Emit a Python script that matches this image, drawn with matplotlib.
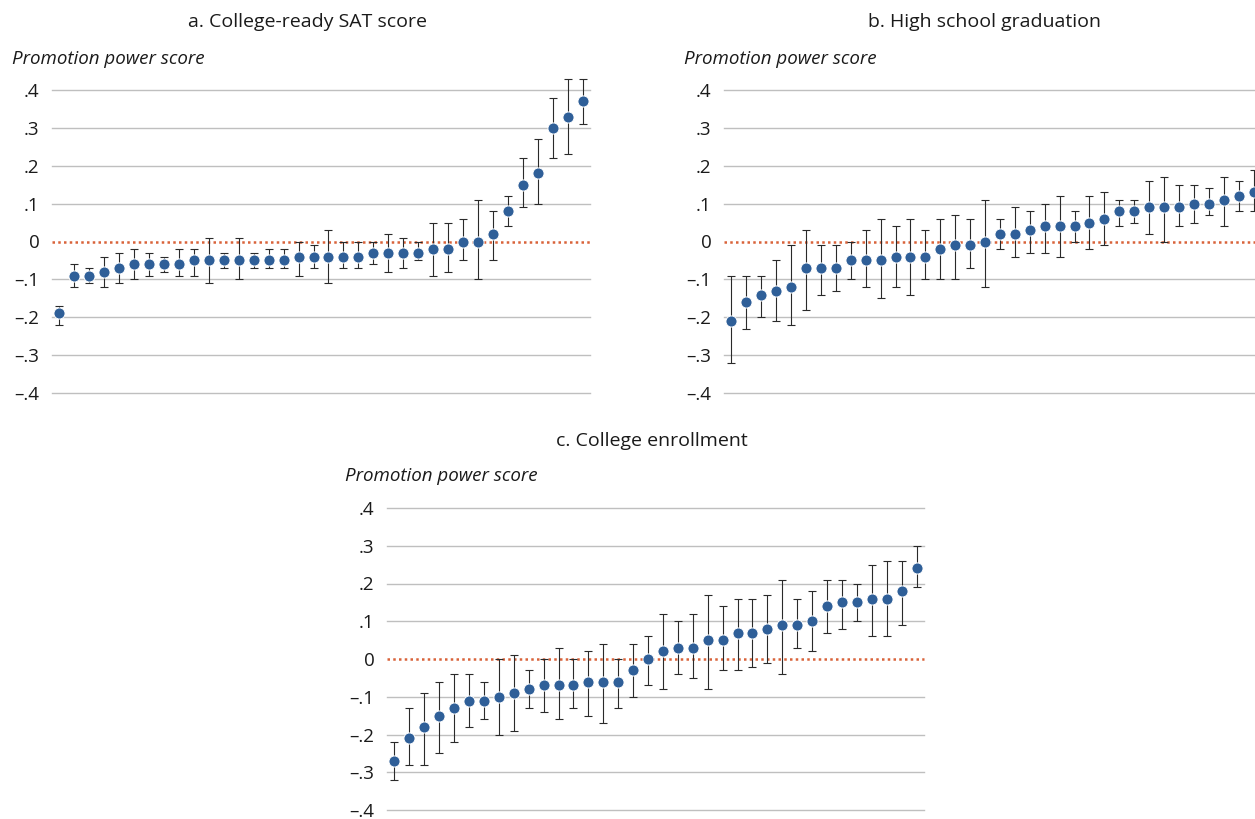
import numpy as np
import matplotlib
matplotlib.use('Agg')
import matplotlib.pyplot as plt

plt.rcParams['font.family'] = ['Open Sans', 'DejaVu Sans']

# Panel a: College-ready SAT score (estimate, lower CI, upper CI)
sat_est = [-0.19, -0.09, -0.09, -0.08, -0.07, -0.06, -0.06, -0.06, -0.06, -0.05,
           -0.05, -0.05, -0.05, -0.05, -0.05, -0.05, -0.04, -0.04, -0.04, -0.04,
           -0.04, -0.03, -0.03, -0.03, -0.03, -0.02, -0.02, 0.00, 0.00, 0.02,
           0.08, 0.15, 0.18, 0.30, 0.33, 0.37]
sat_lo = [-0.22, -0.12, -0.11, -0.12, -0.11, -0.10, -0.09, -0.08, -0.09, -0.09,
          -0.11, -0.07, -0.10, -0.07, -0.07, -0.07, -0.09, -0.07, -0.11, -0.07,
          -0.07, -0.06, -0.08, -0.07, -0.05, -0.09, -0.08, -0.05, -0.10, -0.05,
          0.04, 0.09, 0.10, 0.22, 0.23, 0.31]
sat_hi = [-0.17, -0.06, -0.07, -0.04, -0.03, -0.02, -0.03, -0.04, -0.02, -0.02,
          0.01, -0.03, 0.01, -0.03, -0.02, -0.02, 0.00, -0.01, 0.03, 0.00,
          0.00, 0.00, 0.02, 0.01, 0.00, 0.05, 0.05, 0.06, 0.11, 0.08,
          0.12, 0.22, 0.27, 0.38, 0.43, 0.43]

# Panel b: High school graduation
hs_est = [-0.21, -0.16, -0.14, -0.13, -0.12, -0.07, -0.07, -0.07, -0.05, -0.05,
          -0.05, -0.04, -0.04, -0.04, -0.02, -0.01, -0.01, 0.00, 0.02, 0.02,
          0.03, 0.04, 0.04, 0.04, 0.05, 0.06, 0.08, 0.08, 0.09, 0.09,
          0.09, 0.10, 0.10, 0.11, 0.12, 0.13]
hs_lo = [-0.32, -0.23, -0.20, -0.21, -0.22, -0.18, -0.14, -0.13, -0.10, -0.12,
         -0.15, -0.12, -0.14, -0.10, -0.10, -0.10, -0.07, -0.12, -0.02, -0.04,
         -0.03, -0.03, -0.04, 0.00, -0.02, -0.01, 0.04, 0.05, 0.02, 0.00,
         0.04, 0.05, 0.07, 0.04, 0.08, 0.08]
hs_hi = [-0.09, -0.09, -0.09, -0.05, -0.01, 0.03, -0.01, -0.01, 0.00, 0.03,
         0.06, 0.04, 0.06, 0.03, 0.06, 0.07, 0.06, 0.11, 0.06, 0.09,
         0.08, 0.10, 0.12, 0.08, 0.12, 0.13, 0.11, 0.11, 0.16, 0.17,
         0.15, 0.15, 0.14, 0.17, 0.16, 0.19]

# Panel c: College enrollment
ce_est = [-0.27, -0.21, -0.18, -0.15, -0.13, -0.11, -0.11, -0.10, -0.09, -0.08,
          -0.07, -0.07, -0.07, -0.06, -0.06, -0.06, -0.03, 0.00, 0.02, 0.03,
          0.03, 0.05, 0.05, 0.07, 0.07, 0.08, 0.09, 0.09, 0.10, 0.14,
          0.15, 0.15, 0.16, 0.16, 0.18, 0.24]
ce_lo = [-0.32, -0.28, -0.28, -0.25, -0.22, -0.18, -0.16, -0.20, -0.19, -0.13,
         -0.14, -0.16, -0.13, -0.15, -0.17, -0.13, -0.10, -0.07, -0.08, -0.04,
         -0.05, -0.08, -0.03, -0.03, -0.02, -0.01, -0.04, 0.03, 0.02, 0.07,
         0.08, 0.10, 0.06, 0.06, 0.09, 0.19]
ce_hi = [-0.22, -0.13, -0.09, -0.06, -0.04, -0.04, -0.06, 0.00, 0.01, -0.03,
         0.00, 0.03, 0.00, 0.02, 0.04, 0.00, 0.04, 0.06, 0.12, 0.10,
         0.12, 0.17, 0.14, 0.16, 0.16, 0.17, 0.21, 0.16, 0.18, 0.21,
         0.21, 0.20, 0.25, 0.26, 0.26, 0.30]

titles = ['a. College-ready SAT score', 'b. High school graduation', 'c. College enrollment']
yticks = [-0.4, -0.3, -0.2, -0.1, 0, 0.1, 0.2, 0.3, 0.4]
ytick_labels = ['\u2013.4', '\u2013.3', '\u2013.2', '\u2013.1', '0', '.1', '.2', '.3', '.4']

W, H = 1255, 819
fig = plt.figure(figsize=(W / 100, H / 100), dpi=100)


def px(x0, y_top, x1, y_bot):
    # axes box from pixel coords (top-left origin)
    return [x0 / W, 1 - y_bot / H, (x1 - x0) / W, (y_bot - y_top) / H]


def panel(box, est, lo, hi):
    ax = fig.add_axes(box)
    n = len(est)
    x = np.arange(1, n + 1)
    est = np.array(est)
    yerr = [est - np.array(lo), np.array(hi) - est]
    for t in yticks:
        if t != 0:
            ax.axhline(t, color='#BFBFBF', lw=1.0, zorder=1, clip_on=False)
    ax.axhline(0, color='#D9633A', lw=1.8, ls=(0, (1, 1.3)), zorder=2, clip_on=False)
    ax.errorbar(x, est, yerr=yerr, fmt='none', ecolor='#2a2a2a', elinewidth=0.8,
                capsize=3, capthick=0.8, zorder=3, clip_on=False)
    ax.plot(x, est, 'o', color='#2F5F98', ms=8, mec='white', mew=0.7,
            zorder=4, clip_on=False)
    ax.set_xlim(0.5, n + 0.5)
    ax.set_ylim(-0.4, 0.4)
    ax.set_yticks(yticks)
    ax.set_yticklabels(ytick_labels)
    ax.set_xticks([])
    ax.tick_params(axis='y', length=0, pad=9, labelsize=13.5, labelcolor='#1a1a1a')
    for s in ax.spines.values():
        s.set_visible(False)
    ax.patch.set_alpha(0)
    return ax


panel(px(52, 90, 590, 393), sat_est, sat_lo, sat_hi)
panel(px(724, 90, 1261, 393), hs_est, hs_lo, hs_hi)
panel(px(387, 508, 924, 810), ce_est, ce_lo, ce_hi)

title_kw = dict(fontsize=14, color='#1a1a1a', ha='center', va='center')
fig.text(308 / W, 1 - 22 / H, titles[0], **title_kw)
fig.text(985 / W, 1 - 22 / H, titles[1], **title_kw)
fig.text(652 / W, 1 - 441 / H, titles[2], **title_kw)

lab_kw = dict(fontsize=13.5, style='italic', color='#1a1a1a', ha='left', va='center')
fig.text(12 / W, 1 - 59 / H, 'Promotion power score', **lab_kw)
fig.text(684 / W, 1 - 59 / H, 'Promotion power score', **lab_kw)
fig.text(345 / W, 1 - 476 / H, 'Promotion power score', **lab_kw)

fig.savefig('out.png', dpi=100)
